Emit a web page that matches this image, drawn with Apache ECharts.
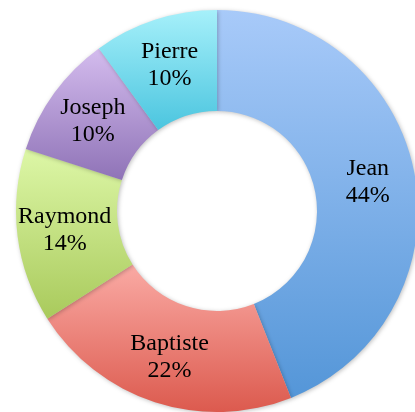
<!DOCTYPE html>
<html lang="en">
<head>
    <meta charset="UTF-8">
    <title>Donut</title>
    <script src="https://cdn.jsdelivr.net/npm/echarts@6/dist/echarts.min.js"></script>
    <style>
        * { padding: 0; margin: 0; }
        body { background: #fff; }
        #main { width: 415px; height: 412px; }
    </style>
</head>
<body>
    <div id="main"></div>
    <script>
        // data
        var names = ['Jean', 'Baptiste', 'Raymond', 'Joseph', 'Pierre'];
        var shares = [44, 22, 14, 10, 10];
        // top / bottom gradient colours per slice
        var topColors = ['#a8caf9', '#faaaa4', '#ddf7a7', '#d4bcee', '#a6f0fa'];
        var bottomColors = ['#5496d8', '#dc5a4e', '#a9ca5c', '#8f73b7', '#4bc5df'];

        var data = [];
        for (var i = 0; i < names.length; i++) {
            data.push({
                name: names[i],
                value: shares[i],
                itemStyle: {
                    color: new echarts.graphic.LinearGradient(0, 0, 0, 1, [
                        { offset: 0, color: topColors[i] },
                        { offset: 1, color: bottomColors[i] }
                    ])
                }
            });
        }

        var myChart = echarts.init(document.getElementById('main'));
        myChart.setOption({
            animation: false,
            series: [{
                type: 'pie',
                center: [217, 211],
                radius: [100, 201],
                startAngle: 90,
                clockwise: true,
                silent: true,
                data: data,
                itemStyle: {
                    shadowBlur: 4,
                    shadowColor: 'rgba(0,0,0,0.25)',
                    shadowOffsetX: 1,
                    shadowOffsetY: 1
                },
                label: {
                    position: 'inside',
                    formatter: '{b}\n{c}%',
                    fontFamily: 'Liberation Serif',
                    fontSize: 24,
                    lineHeight: 27,
                    color: '#000',
                    textBorderWidth: 0
                },
                labelLine: { show: false }
            }]
        });
    </script>
</body>
</html>
